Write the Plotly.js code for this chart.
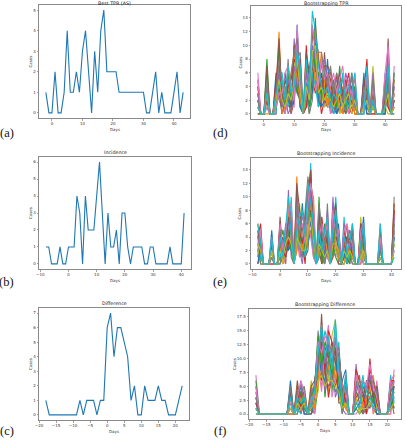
<!DOCTYPE html>
<html><head><meta charset="utf-8">
<script src="https://cdn.plot.ly/plotly-3.0.1.min.js"></script>
<style>html,body{margin:0;padding:0;background:#fff;}#chart{width:405px;height:440px;}</style>
</head><body><div id="chart"></div>
<script>
// ---------- data ----------
const daysTPR = [-2,-1,0,1,2,3,4,5,6,7,8,9,10,11,12,13,14,15,16,17,18,19,20,21,22,23,24,25,26,27,28,29,30,31,32,33,34,35,36,37,38,39,40,41,42,43];
const bestTPR = [1,0,0,2,0,0,1,4,1,1, 2,1,3,4,2,0,3,1,4,5, 2,2,2,2,1,1,1,1,1,1, 1,1,1,0,0,1,2,0,1,0, 0,0,1,2,0,1];

const daysInc = [-8,-7,-6,-5,-4,-3,-2,-1,0,1,2,3,4,5,6,7,8,9,10,11,12,13,14,15,16,17,18,19,20,21,22,23,24,25,26,27,28,29,30,31,32,33,34,35,36,37,38,39,40,41];
const incidence = [1,1,0,0,0,1,0,0,1,1, 1,4,3,0,4,2,2,2,4,6, 3,0,3,1,1,2,0,3,3,1, 0,1,1,1,1,0,0,1,1,0, 0,0,0,0,1,0,0,0,0,3];

const daysDiff = [-18,-17,-16,-15,-14,-13,-12,-11,-10,-9,-8,-7,-6,-5,-4,-3,-2,-1,0,1,2,3,4,5,6,7,8,9,10,11,12,13,14,15,16,17,18,19,20,21,22];
const difference = [1,0,0,0,0,0,0,0,0,0, 1,0,1,1,1,0,1,1,6,7, 4,6,6,5,4,1,2,0,0,2, 1,1,1,2,1,1,0,0,0,1, 2];

const bootTPR = [
 [2,0,0,3,0,0, 1,5,2,0,4,1,6,3,2, 0, 5,1,3,7,2,4,1,3, 2,0,1,3,1,2,0,1,4, 0,0,1,3,0,2,0,0,0,1,4,0,2],
 [1,0,0,2,0,0, 3,12,1,2,1,3,4,10,5, 0, 2,3,6,4,9,3,5,2, 1,3,2,0,4,1,2,3,0, 0,0,2,1,0,0,0,0,0,3,2,0,1],
 [0,0,0,8,0,0, 2,3,0,1,3,2,5,6,1, 0, 3,0,4,14,1,2,3,4, 0,1,3,2,1,0,3,2,1, 0,0,0,4,0,1,0,0,0,0,5,0,3],
 [3,0,0,1,0,0, 0,6,3,1,2,0,2,7,3, 0, 10,2,5,3,4,0,2,1, 3,2,0,1,2,4,1,0,2, 0,0,3,8,0,0,0,0,0,2,1,0,0],
 [5,0,0,2,0,0, 4,2,1,3,0,1,11,4,2, 0, 1,4,3,8,2,5,1,2, 1,0,2,5,0,1,2,1,3, 0,0,1,2,0,3,0,0,0,1,3,0,4],
 [1,0,0,4,0,0, 1,4,0,2,5,2,3,5,1, 0, 4,1,7,5,3,1,9,3, 2,1,0,2,3,0,1,2,0, 0,0,2,0,0,1,0,0,0,0,11,0,2],
 [6,0,0,1,0,0, 2,7,4,0,2,1,1,9,4, 0, 2,3,5,6,1,3,2,5, 0,2,1,3,1,2,0,4,1, 0,0,0,3,0,4,0,0,0,2,2,0,7],
 [2,0,0,3,0,0, 1,3,2,1,8,0,4,8,9, 0, 3,0,2,9,2,2,4,1, 1,3,2,1,0,2,3,1,2, 0,0,1,1,0,2,0,0,0,3,4,0,1],
 [0,0,0,2,0,0, 3,5,1,4,3,2,7,11,2, 0, 6,2,4,6,4,3,1,2, 2,1,4,0,1,3,2,0,1, 0,0,4,2,0,7,0,0,0,1,0,0,5],
 [4,0,0,1,0,0, 0,6,6,2,1,4,3,12,3, 0, 2,1,6,4,1,8,3,2, 3,0,1,2,6,1,4,2,3, 0,0,2,5,0,1,0,0,0,6,3,0,2],
 [1,0,0,5,0,0, 6,4,2,6,2,1,2,13,1, 0, 4,7,3,11,2,1,2,8, 1,4,0,1,2,3,1,6,2, 0,0,6,0,0,2,0,0,0,0,6,0,1],
 [3,0,0,0,0,0, 2,9,0,1,3,6,9,5,2, 0, 3,2,8,5,5,9,4,1, 4,2,3,1,0,5,2,3,0, 0,0,1,6,0,3,0,0,0,4,2,0,3],
 [2,0,0,6,0,0, 1,10,3,1,6,2,5,3,6, 0, 7,1,9,7,6,2,6,3, 2,5,1,7,2,1,3,2,4, 0,0,3,3,0,5,0,0,0,2,8,0,6],
 [4,0,0,2,0,0, 5,8,1,3,4,5,8,7,3, 0, 1,5,12,10,3,6,2,6, 5,1,6,2,3,4,6,1,2, 0,0,5,4,0,1,0,0,0,5,1,0,2],
 [3,0,0,4,0,0, 2,6,1,3,5,3,7,4,5, 0, 6,2,10,8,5,7,8,5, 3,4,5,3,2,6,4,5,3, 0,0,2,5,0,6,0,0,0,3,9,0,4],
 [0,0,0,7,0,0, 4,11,2,5,3,1,10,6,8, 0, 9,6,11,13,8,3,7,7, 6,2,4,6,3,5,2,4,5, 0,0,5,2,0,3,0,0,0,2,3,0,5],
 [5,0,0,1,0,0, 1,3,3,6,7,4,2,13,4, 0, 5,4,13,9,4,8,5,6, 4,6,3,5,7,3,5,2,6, 0,0,1,6,0,4,0,0,0,6,10,0,3],
 [2,0,0,5,0,0, 3,8,4,4,2,6,9,11,6, 0, 3,5,7,11,9,9,6,4, 7,3,6,4,5,2,3,6,1, 0,0,4,3,0,5,0,0,0,4,5,0,6],
 [1,0,0,3,0,0, 2,5,2,1,3,2,5,8,3, 0, 4,2,9,10,3,4,2,3, 2,1,2,3,1,2,3,1,2, 0,0,1,2,0,1,0,0,0,1,3,0,1],
 [1,0,0,3,0,0, 3,4,5,2,7,3,4,9,7, 0, 8,3,15,12,7,4,3,4, 1,3,2,4,5,2,1,3,6, 0,0,0,7,0,2,0,0,0,1,7,0,0]
];

const bootIncidence = [
 [2,1,0,0,0,3,0,0, 1,0,2,5,3,0, 4,2,1,3,6,7,2,0, 3,1,0,2,0, 4,3,1,0, 2,0,1,3,0,0, 1,2,0,0,0,0,0, 1,0,0,0,0, 4],
 [1,3,0,0,0,0,0,0, 2,1,0,8,4,0, 13,3,2,1,4,9,3,0, 2,0,1,3,0, 1,5,2,0, 0,3,1,0,0,0, 2,0,0,0,0,0,0, 2,0,0,0,0, 6],
 [4,0,0,0,0,1,0,0, 0,2,1,3,6,0, 2,5,4,2,3,5,1,0, 5,2,3,1,0, 3,1,0,0, 1,2,0,2,0,0, 4,1,0,0,0,0,0, 0,0,0,0,0, 3],
 [0,2,0,0,0,2,0,0, 3,0,2,4,2,0, 6,1,3,0,8,14,4,0, 1,3,2,5,0, 2,4,3,0, 3,1,2,1,0,0, 0,3,0,0,0,0,0, 1,0,0,0,0, 8],
 [3,1,0,0,0,4,0,0, 1,3,0,11,1,0, 3,2,0,4,5,6,2,0, 4,1,0,2,0, 10,2,1,0, 0,1,3,2,0,0, 1,0,0,0,0,0,0, 3,0,0,0,0, 2],
 [1,4,0,0,0,1,0,0, 7,1,3,2,5,0, 5,4,2,1,2,8,6,0, 2,0,2,4,0, 1,6,0,0, 4,0,1,6,0,0, 3,2,0,0,0,0,0, 0,0,0,0,0, 5],
 [5,2,0,0,0,0,0,0, 2,0,1,6,3,0, 8,1,5,3,7,4,1,0, 6,2,1,1,0, 5,3,2,0, 2,3,0,1,0,0, 0,4,0,0,0,0,0, 2,0,0,0,0, 7],
 [2,0,0,0,0,3,0,0, 0,2,4,3,2,0, 4,3,1,8,13,10,3,0, 3,4,0,9,0, 2,1,4,0, 1,2,2,0,0,0, 2,1,0,0,0,0,0, 1,0,0,0,0, 10],
 [1,5,0,0,0,2,0,0, 4,0,2,7,4,0, 3,9,3,2,6,12,5,0, 2,1,3,3,0, 7,2,1,0, 0,1,1,4,0,0, 7,0,0,0,0,0,0, 4,0,0,0,0, 3],
 [3,1,0,0,0,1,0,0, 1,4,1,4,10,0, 7,2,4,1,3,15,2,0, 1,5,2,2,0, 3,10,3,0, 7,0,2,2,0,0, 1,5,0,0,0,0,0, 0,0,0,0,0, 6],
 [0,3,0,0,0,5,0,0, 5,1,6,2,3,0, 9,4,9,3,10,6,4,0, 7,1,1,6,0, 4,4,6,0, 1,4,5,3,0,0, 3,7,0,0,0,0,0, 1,0,0,0,0, 4],
 [6,2,0,0,0,2,0,0, 2,3,2,9,6,0, 2,6,2,5,4,11,10,0, 4,3,4,2,0, 6,3,1,0, 3,6,1,2,0,0, 2,3,0,0,0,0,0, 6,0,0,0,0, 9],
 [2,4,0,0,0,3,0,0, 3,5,3,5,2,0, 11,3,6,2,9,7,3,0, 10,0,6,3,0, 2,7,2,0, 2,1,0,5,0,0, 5,2,0,0,0,0,0, 2,0,0,0,0, 5],
 [4,6,0,0,0,0,0,0, 6,2,1,3,7,0, 6,5,3,6,11,13,7,0, 3,7,3,4,0, 8,5,5,0, 5,3,4,1,0,0, 6,4,0,0,0,0,0, 3,0,0,0,0, 8],
 [3,4,0,0,0,2,0,0, 4,3,4,6,8,0, 10,6,7,5,8,11,8,0, 6,4,2,8,0, 9,7,4,0, 6,5,2,4,0,0, 4,5,0,0,0,0,0, 3,0,0,0,0, 7],
 [5,2,0,0,0,3,0,0, 3,4,2,7,5,0, 12,8,5,7,11,14,5,0, 8,3,5,3,0, 6,9,2,0, 3,4,3,5,0,0, 6,3,0,0,0,0,0, 5,0,0,0,0, 9],
 [2,5,0,0,0,4,0,0, 6,2,5,8,9,0, 7,5,6,3,9,12,9,0, 4,6,4,6,0, 8,4,5,0, 5,6,4,3,0,0, 5,6,0,0,0,0,0, 4,0,0,0,0, 5],
 [4,3,0,0,0,1,0,0, 5,5,3,5,6,0, 9,4,8,6,6,10,6,0, 9,5,3,5,0, 4,6,3,0, 4,3,5,4,0,0, 2,4,0,0,0,0,0, 2,0,0,0,0, 6],
 [3,2,0,0,0,2,0,0, 2,1,3,4,3,0, 4,3,2,2,5,7,3,0, 3,2,1,2,0, 3,3,2,0, 2,1,2,1,0,0, 1,2,0,0,0,0,0, 1,0,0,0,0, 2],
 [6,3,0,0,0,4,0,0, 4,1,5,10,4,0, 5,7,8,4,12,9,6,0, 5,2,5,7,0, 5,8,3,0, 4,2,3,6,0,0, 3,6,0,0,0,0,0, 6,0,0,0,0, 1]
];

const bootDifference = [
 [1, 0,0,0,0,0,0,0,0,0, 2, 0, 1,3,0, 0, 2,1, 7,9,5,8,6,4,5,1,3, 0,0, 2,1,0,3,2,1,0, 0,0,0, 1,3],
 [3, 0,0,0,0,0,0,0,0,0, 0, 0, 2,1,4, 0, 0,3, 11,5,8,4,10,7,3,2,1, 0,0, 4,2,3,1,5,0,2, 0,0,0, 0,5],
 [0, 0,0,0,0,0,0,0,0,0, 4, 0, 0,2,1, 0, 1,0, 5,12,3,10,4,9,6,0,4, 0,0, 1,0,1,2,3,2,1, 0,0,0, 2,2],
 [5, 0,0,0,0,0,0,0,0,0, 1, 0, 3,0,2, 0, 4,2, 8,6,10,3,7,5,8,3,2, 0,0, 3,4,0,1,10,3,0, 0,0,0, 4,1],
 [2, 0,0,0,0,0,0,0,0,0, 3, 0, 1,4,0, 0, 2,5, 13,10,4,7,11,3,5,1,0, 0,0, 9,1,2,0,2,1,3, 0,0,0, 1,6],
 [1, 0,0,0,0,0,0,0,0,0, 0, 0, 6,1,3, 0, 0,1, 6,18,7,5,6,12,2,2,5, 0,0, 2,3,4,2,1,4,1, 0,0,0, 3,0],
 [7, 0,0,0,0,0,0,0,0,0, 2, 0, 2,3,1, 0, 3,0, 9,4,12,16,3,6,10,4,1, 0,0, 0,1,1,3,4,0,6, 0,0,0, 0,8],
 [0, 0,0,0,0,0,0,0,0,0, 5, 0, 0,6,2, 0, 1,4, 15,8,5,9,8,4,4,0,3, 0,0, 5,7,0,1,3,2,2, 0,0,0, 5,3],
 [4, 0,0,0,0,0,0,0,0,0, 1, 0, 4,2,5, 0, 6,2, 4,14,9,6,14,17,7,1,6, 0,0, 3,0,3,4,5,7,1, 0,0,0, 2,4],
 [2, 0,0,0,0,0,0,0,0,0, 3, 0, 1,0,3, 0, 2,6, 10,11,15,12,5,8,13,2,2, 0,0, 6,4,7,1,2,1,4, 0,0,0, 7,2],
 [3, 0,0,0,0,0,0,0,0,0, 6, 0, 3,5,0, 0, 0,3, 12,7,6,13,9,11,3,6,8, 0,0, 1,2,2,5,7,3,0, 0,0,0, 1,5],
 [1, 0,0,0,0,0,0,0,0,0, 2, 0, 5,2,4, 0, 5,1, 7,15,11,8,12,6,9,3,1, 0,0, 7,5,1,2,6,5,3, 0,0,0, 4,7],
 [6, 0,0,0,0,0,0,0,0,0, 4, 0, 2,4,1, 0, 3,5, 14,9,13,11,7,14,6,1,5, 0,0, 4,3,5,3,4,2,5, 0,0,0, 3,1],
 [2, 0,0,0,0,0,0,0,0,0, 1, 0, 4,1,2, 0, 1,2, 9,13,8,15,13,10,11,5,2, 0,0, 8,6,4,0,8,6,2, 0,0,0, 6,6],
 [4, 0,0,0,0,0,0,0,0,0, 3, 0, 4,5,3, 0, 4,5, 12,14,9,12,11,13,9,3,5, 0,0, 5,4,5,4,7,4,4, 0,0,0, 5,6],
 [2, 0,0,0,0,0,0,0,0,0, 4, 0, 5,3,4, 0, 5,6, 10,12,12,10,13,9,11,4,6, 0,0, 6,5,3,6,6,3,5, 0,0,0, 4,5],
 [5, 0,0,0,0,0,0,0,0,0, 2, 0, 3,6,4, 0, 3,3, 13,11,14,13,10,15,7,5,4, 0,0, 7,3,6,5,9,5,3, 0,0,0, 6,7],
 [3, 0,0,0,0,0,0,0,0,0, 5, 0, 4,4,5, 0, 4,4, 8,15,10,9,12,10,12,3,7, 0,0, 4,6,4,3,5,6,4, 0,0,0, 3,4],
 [1, 0,0,0,0,0,0,0,0,0, 1, 0, 2,1,2, 0, 1,2, 6,7,5,6,6,5,4,1,2, 0,0, 2,1,1,1,2,1,1, 0,0,0, 1,2],
 [1, 0,0,0,0,0,0,0,0,0, 3, 0, 3,2,3, 0, 2,4, 11,16,10,14,8,17,8,2,7, 0,0, 2,1,6,4,3,1,1, 0,0,0, 2,4]
];

const titles = ['Best TPR (AS)','Incidence','Difference','Bootstrapping TPR','Bootstrapping Incidence','Bootstrapping Difference'];
const panelLabels = ['(a)','(b)','(c)','(d)','(e)','(f)'];
const xLabel = 'Days';
const yLabel = 'Cases';

// ---------- styling / layout ----------
const W = 405, H = 440;
const PX = p => p / W, PY = p => 1 - p / H;
const tab10 = ['#1f77b4','#ff7f0e','#2ca02c','#d62728','#9467bd','#8c564b','#e377c2','#7f7f7f','#bcbd22','#17becf'];

// frames in pixel coords [left, right, top, bottom]
const frames = [
  [39,190,5,118],[39,191,157,269],[39,189,308,420],
  [251,401,6,119],[251,401,158,269],[249,401,309,419]
];
const xr = [[-4.25,45.25],[-10.45,43.45],[-20,24],[-4.25,45.25],[-10.45,43.45],[-20,24]];
const yr = [[-0.25,5.25],[-0.3,6.3],[-0.35,7.35],[-0.75,15.75],[-0.75,15.75],[-0.9,18.9]];
const xdt = [10,10,5,10,10,5];
const xt0 = [0,-10,-20,0,-10,-20];
const ydt = [1,1,1,2,2,2.5];
const yfmt = ['d','d','d','d','d','.1f'];
const ylabX = [30,30,30,240,239,234];
const labY = [133,282,431,133,282,431];

const traces = [];
const axRef = i => i === 0 ? ['x','y'] : ['x'+(i+1),'y'+(i+1)];

[[daysTPR,bootTPR],[daysInc,bootIncidence],[daysDiff,bootDifference]].forEach((d,k)=>{
  const i = k+3;
  const [xa,ya] = axRef(i);
  d[1].forEach((s,j)=>{
    if (s.length !== d[0].length) console.error('length mismatch', i, j, s.length);
    traces.push({x:d[0],y:s,xaxis:xa,yaxis:ya,type:'scatter',mode:'lines',
      line:{color:tab10[j%10],width:1.1},showlegend:false,hoverinfo:'skip'});
  });
});
[[daysTPR,bestTPR],[daysInc,incidence],[daysDiff,difference]].forEach((d,i)=>{
  const [xa,ya] = axRef(i);
  traces.push({x:d[0],y:d[1],xaxis:xa,yaxis:ya,type:'scatter',mode:'lines',
    line:{color:'#1f77b4',width:1.1},showlegend:false,hoverinfo:'skip'});
});

const layout = {width:W,height:H,margin:{l:0,r:0,t:0,b:0},paper_bgcolor:'#fff',plot_bgcolor:'#fff',
  font:{family:'DejaVu Sans, sans-serif',size:4,color:'#333'},annotations:[],showlegend:false};

frames.forEach((f,i)=>{
  const sfx = i===0 ? '' : String(i+1);
  const [l,r,t,b] = f;
  const common = {showline:true,mirror:true,linecolor:'#8a8a8a',linewidth:1,showgrid:false,zeroline:false,
    ticks:'outside',ticklen:1.5,tickwidth:0.6,tickcolor:'#666',tickfont:{size:4,color:'#333'},fixedrange:true};
  layout['xaxis'+sfx] = Object.assign({},common,{domain:[PX(l),PX(r)],range:xr[i],anchor:'y'+sfx,
    tickmode:'linear',tick0:xt0[i],dtick:xdt[i]});
  layout['yaxis'+sfx] = Object.assign({},common,{domain:[PY(b),PY(t)],range:yr[i],anchor:'x'+sfx,
    tickmode:'linear',tick0:0,dtick:ydt[i],tickformat:yfmt[i]});
  const cx = (l+r)/2, cy = (t+b)/2;
  const topRow = (i===0 || i===3);
  layout.annotations.push({xref:'paper',yref:'paper',x:PX(cx),y:topRow?PY(0):PY(t-1),xanchor:'center',
    yanchor:topRow?'top':'bottom',text:titles[i],showarrow:false,font:{size:4.8,color:'#222'},borderpad:0});
  layout.annotations.push({xref:'paper',yref:'paper',x:PX(cx),y:PY(b+11),xanchor:'center',yanchor:'middle',
    text:xLabel,showarrow:false,font:{size:4,color:'#333'},borderpad:0});
  layout.annotations.push({xref:'paper',yref:'paper',x:PX(ylabX[i]),y:PY(cy),xanchor:'center',yanchor:'middle',
    text:yLabel,textangle:-90,showarrow:false,font:{size:4,color:'#333'},borderpad:0});
  const labX = i<3 ? 7 : 220;
  layout.annotations.push({xref:'paper',yref:'paper',x:PX(labX),y:PY(labY[i]),xanchor:'center',yanchor:'middle',
    text:panelLabels[i],showarrow:false,font:{family:'Liberation Serif, DejaVu Serif, serif',size:12.5,color:'#111'},borderpad:0});
});

Plotly.newPlot('chart',traces,layout,{staticPlot:true,displayModeBar:false});
</script>
</body></html>
